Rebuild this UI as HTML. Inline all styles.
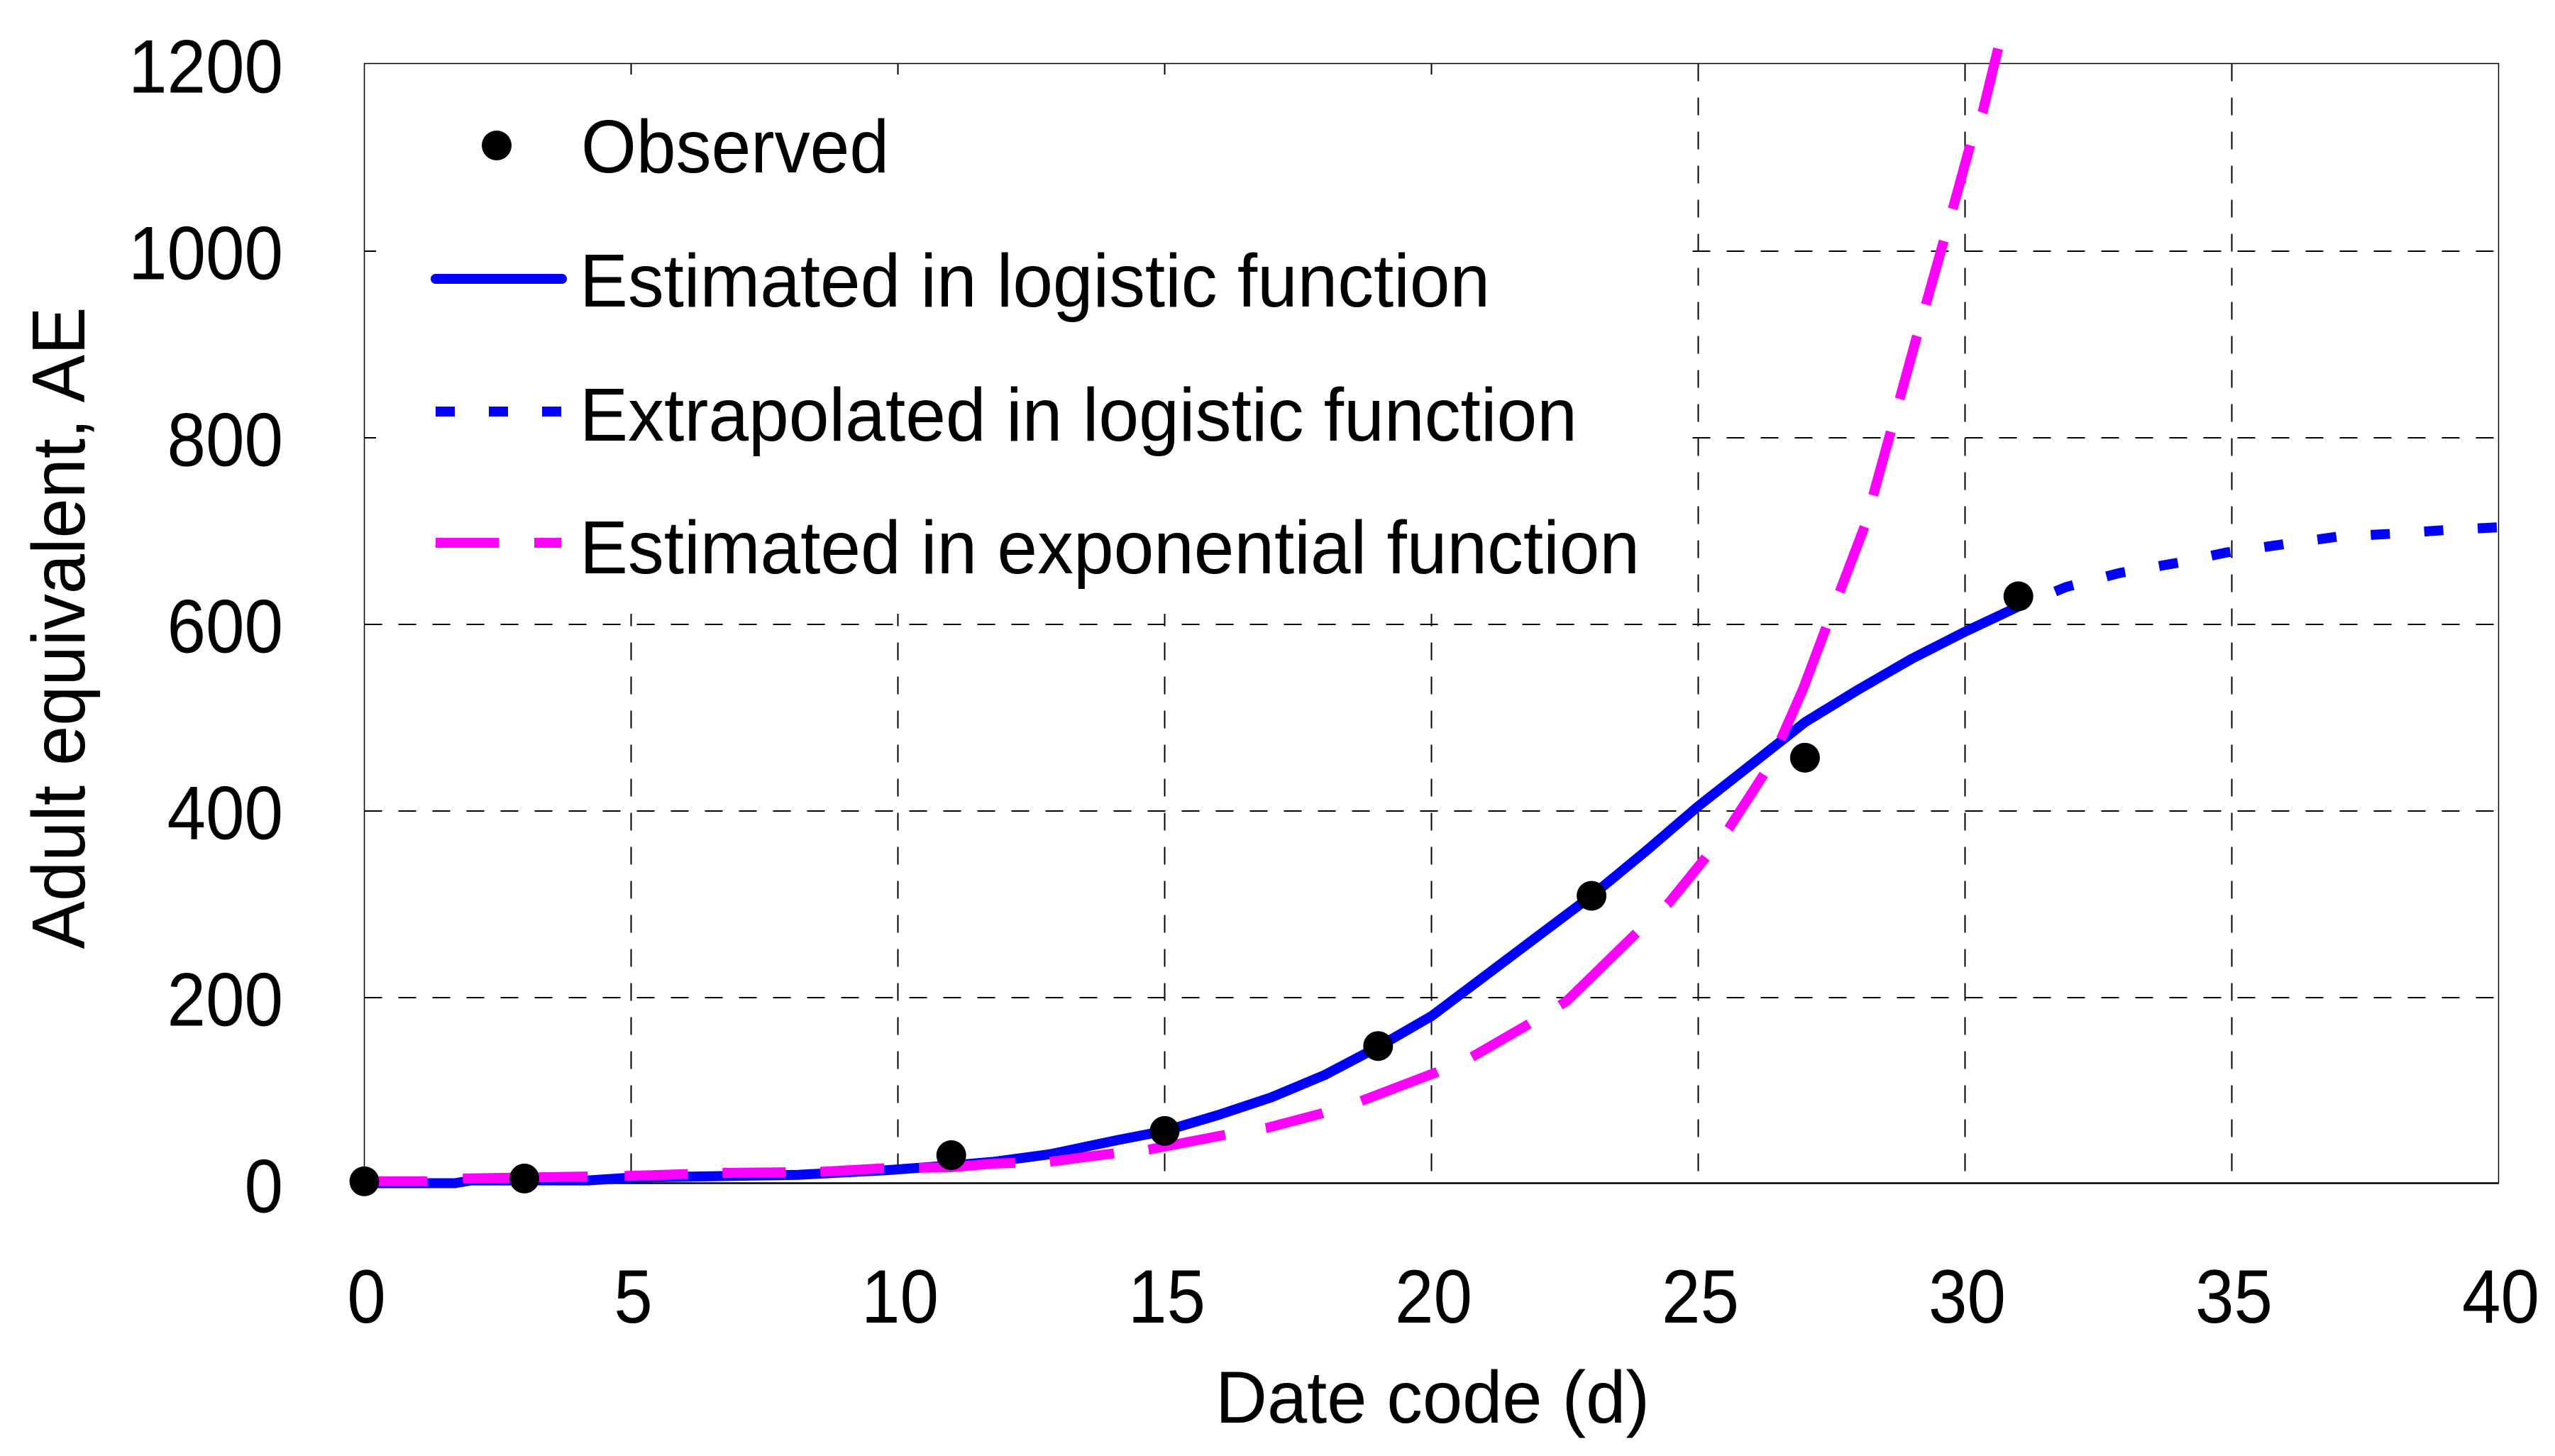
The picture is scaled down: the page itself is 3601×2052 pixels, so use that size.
<!DOCTYPE html>
<html lang="en">
<head>
<meta charset="utf-8">
<title>Adult equivalent chart</title>
<style>
html,body{margin:0;padding:0;background:#fff;width:3601px;height:2052px;overflow:hidden}
svg{display:block}
text{font-family:"Liberation Sans",Arial,sans-serif;fill:#000}
</style>
</head>
<body>
<svg id="chart" xmlns="http://www.w3.org/2000/svg" width="3601" height="2052" viewBox="0 0 3601 2052">
  <rect x="0" y="0" width="3601" height="2052" fill="#fff"/>
  <g id="grid" shape-rendering="crispEdges"></g>
  <rect x="530" y="105" width="1855" height="760" fill="#fff"/>
  <g id="axes"></g>
  <g id="ticks"></g>
  <text x="2019" y="2005" font-size="104" text-anchor="middle" textLength="612" lengthAdjust="spacingAndGlyphs">Date code (d)</text>
  <text x="0" y="0" font-size="106" text-anchor="middle" textLength="905" lengthAdjust="spacingAndGlyphs" transform="translate(119 885) rotate(-90)">Adult equivalent, AE</text>
  <g id="series"></g>
  <g>
    <g>
      <circle cx="700" cy="205" r="21" fill="#000"/>
      <text x="819" y="243" font-size="106" textLength="434" lengthAdjust="spacingAndGlyphs">Observed</text>
    </g>
    <g>
      <line x1="614" y1="393" x2="792" y2="393" stroke="#0000ff" stroke-width="14" stroke-linecap="round"/>
      <text x="817" y="432" font-size="106" textLength="1283" lengthAdjust="spacingAndGlyphs">Estimated in logistic function</text>
    </g>
    <g>
      <line x1="614" y1="580" x2="791" y2="580" stroke="#0000ff" stroke-width="14" stroke-dasharray="27 48"/>
      <text x="817" y="621" font-size="106" textLength="1406" lengthAdjust="spacingAndGlyphs">Extrapolated in logistic function</text>
    </g>
    <g>
      <line x1="614" y1="765" x2="791" y2="765" stroke="#ff00ff" stroke-width="14" stroke-dasharray="89 50"/>
      <text x="817" y="808" font-size="106" textLength="1494" lengthAdjust="spacingAndGlyphs">Estimated in exponential function</text>
    </g>
  </g>
</svg>
<script>
var xTicks = [0, 5, 10, 15, 20, 25, 30, 35, 40];
var yTicks = [0, 200, 400, 600, 800, 1000, 1200];

var observedX = [0, 3, 11, 15, 19, 23, 27, 31];
var observedY = [2, 5, 30, 56, 147, 308, 456, 629];

var logisticX = [0, 1.7, 2, 4.2, 5, 8.13, 9.8, 11, 11.8, 12.85, 14.1, 15, 16, 17, 18, 19, 20, 21, 22, 23, 24, 25, 26, 27, 28, 29, 30, 31];
var logisticY = [0, 0, 3, 3, 6, 9, 14, 19, 23, 31, 46, 56, 73, 92, 116, 146, 179, 222, 265, 308, 355, 404, 449, 494, 529, 562, 591, 618];

var extrapolatedX = [31, 31.9, 32.9, 34, 34.9, 36, 37, 38, 39, 40];
var extrapolatedY = [618, 639, 654, 665, 676, 685, 693, 696, 700, 703];

var exponentialX = [0, 1.18, 1.84, 5.05, 6.71, 8.49, 9.73, 10.98, 11.79, 12.85, 14.05, 14.7, 16.06, 16.9, 17.96, 18.68, 20.1, 20.75, 21.81, 22.53, 23.84, 24.43, 25.14, 25.57, 26.24, 26.55, 26.96, 27.4, 28.12, 28.61, 29.1, 29.77, 30.1, 30.33, 30.62];
var exponentialY = [2, 2, 5, 8, 11, 12, 16, 17, 21, 23, 32, 36, 51, 59, 75, 88, 119, 135, 170, 195, 268, 299, 349, 380, 439, 476, 529, 596, 704, 806, 908, 1044, 1113, 1148, 1216];

var NS = 'http://www.w3.org/2000/svg';
var plot = {left: 513.5, right: 3521.5, top: 89.5, bottom: 1667.5};
function sx(v) { return plot.left + (v - 0) / 40 * (plot.right - plot.left); }
function sy(v) { return plot.bottom - (v - 0) / 1200 * (plot.bottom - plot.top); }
function mk(tag, parent) {
  var el = document.createElementNS(NS, tag);
  parent.appendChild(el);
  return el;
}
function pathFrom(xs, ys) {
  return xs.map(function (x, i) { return (i ? 'L' : 'M') + sx(x).toFixed(1) + ' ' + sy(ys[i]).toFixed(1); }).join(' ');
}

var gridG = document.getElementById('grid');
var axesG = document.getElementById('axes');
var ticksG = document.getElementById('ticks');
var seriesG = document.getElementById('series');

xTicks.forEach(function (t) {
  if (t > 0 && t < 40) {
    var g = mk('line', gridG);
    
    
    g.setAttribute('x1', sx(t)); g.setAttribute('x2', sx(t));
    g.setAttribute('y1', plot.top); g.setAttribute('y2', plot.bottom);
    g.setAttribute('stroke', '#000'); g.setAttribute('stroke-width', '2');
    g.setAttribute('stroke-dasharray', '25 23');
  }
  var l = mk('text', ticksG);
  
  
  l.setAttribute('x', sx(t) + 3); l.setAttribute('y', 1864);
  l.setAttribute('font-size', '107'); l.setAttribute('text-anchor', 'middle');
  l.setAttribute('textLength', String(t).length * 54.5);
  l.setAttribute('lengthAdjust', 'spacingAndGlyphs');
  l.textContent = String(t);
});

yTicks.forEach(function (t) {
  if (t > 0 && t < 1200) {
    var g = mk('line', gridG);
    
    
    g.setAttribute('x1', plot.left); g.setAttribute('x2', plot.right);
    g.setAttribute('y1', sy(t) + 1.4); g.setAttribute('y2', sy(t) + 1.4);
    g.setAttribute('stroke', '#000'); g.setAttribute('stroke-width', '2');
    g.setAttribute('stroke-dasharray', '25 23');
  }
  var l = mk('text', ticksG);
  
  
  l.setAttribute('x', 399); l.setAttribute('y', sy(t) + 41);
  l.setAttribute('font-size', '107'); l.setAttribute('text-anchor', 'end');
  l.setAttribute('textLength', String(t).length * 54.5);
  l.setAttribute('lengthAdjust', 'spacingAndGlyphs');
  l.textContent = String(t);
});

var frame = mk('rect', axesG);


frame.setAttribute('x', plot.left); frame.setAttribute('y', plot.top);
frame.setAttribute('width', plot.right - plot.left); frame.setAttribute('height', plot.bottom - plot.top);
frame.setAttribute('fill', 'none'); frame.setAttribute('stroke', '#000'); frame.setAttribute('stroke-width', '1.5');

var base = mk('line', axesG);


base.setAttribute('x1', plot.left); base.setAttribute('x2', plot.right);
base.setAttribute('y1', plot.bottom); base.setAttribute('y2', plot.bottom);
base.setAttribute('stroke', '#000'); base.setAttribute('stroke-width', '2.5');

var blue = mk('path', seriesG);


blue.setAttribute('d', pathFrom(logisticX, logisticY));
blue.setAttribute('fill', 'none'); blue.setAttribute('stroke', '#0000ff');
blue.setAttribute('stroke-width', '14'); blue.setAttribute('stroke-linejoin', 'round');

var blueDots = mk('path', seriesG);


blueDots.setAttribute('d', pathFrom(extrapolatedX, extrapolatedY));
blueDots.setAttribute('fill', 'none'); blueDots.setAttribute('stroke', '#0000ff');
blueDots.setAttribute('stroke-width', '14'); blueDots.setAttribute('stroke-dasharray', '27 48.5');
blueDots.setAttribute('stroke-dashoffset', '-56');

var magenta = mk('path', seriesG);


magenta.setAttribute('d', pathFrom(exponentialX, exponentialY));
magenta.setAttribute('fill', 'none'); magenta.setAttribute('stroke', '#ff00ff');
magenta.setAttribute('stroke-width', '14');
magenta.setAttribute('stroke-dasharray', '89 50 176 52 89 49 89 49 90 49 136 49 91 49 110 58 83 57 115 53 93 51 148 60 85 52 91 55 170 54 98 46 93 48 92 46 93 47 93 49 93 999');

observedX.forEach(function (x, i) {
  var c = mk('circle', seriesG);
  
  
  c.setAttribute('cx', sx(x)); c.setAttribute('cy', sy(observedY[i]));
  c.setAttribute('r', '21'); c.setAttribute('fill', '#000');
});
</script>
</body>
</html>
